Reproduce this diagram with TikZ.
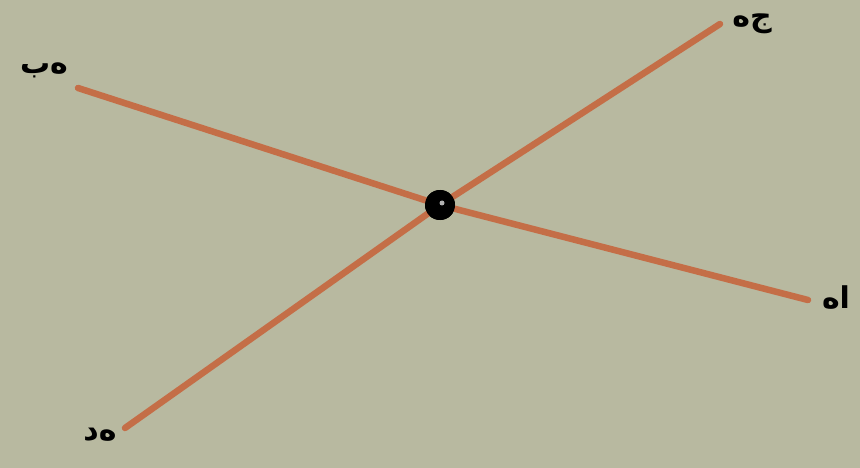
\documentclass[tikz,border=0pt]{standalone}
\usepackage{fontspec}
\newfontfamily\arabicfont[Script=Arabic]{DejaVu Sans}
\TeXXeTstate=1
\definecolor{paper}{RGB}{184,185,160}
\definecolor{ink}{RGB}{198,102,62}
\begin{document}
\begin{tikzpicture}[x=1pt,y=-1pt,
  ray/.style={draw=ink,line width=6.5pt,line cap=round,opacity=0.9},
  lbl/.style={font=\arabicfont\fontsize{30}{30}\selectfont\bfseries,text=black,inner sep=0pt}]
\fill[paper] (0,0) rectangle (860,468);
\useasboundingbox (0,0) rectangle (860,468);
\node[circle,fill=black,minimum size=30pt,inner sep=0pt] (h) at (440,205) {};
\coordinate (b) at (78,88);
\coordinate (a) at (808,300);
\coordinate (j) at (720,24);
\coordinate (d) at (125,428);
\draw[ray] (b) -- (h);
\draw[ray] (h) -- (a);
\draw[ray] (d) -- (h);
\draw[ray] (h) -- (j);
\node[circle,fill=black,minimum size=30pt,inner sep=0pt] (hc) at (440,205) {};
\fill[gray!60] (hc.center) ++(2,-2) circle (2.5pt);
\node[lbl] (lb) at (44,70) {\beginR ه‌ب\endR};
\node[lbl] (lj) at (752,24) {\beginR ج‌ه\endR};
\node[lbl] (la) at (836,298) {\beginR ا‌ه\endR};
\node[lbl] (ld) at (100,435) {\beginR ه‌د\endR};
\end{tikzpicture}
\end{document}
